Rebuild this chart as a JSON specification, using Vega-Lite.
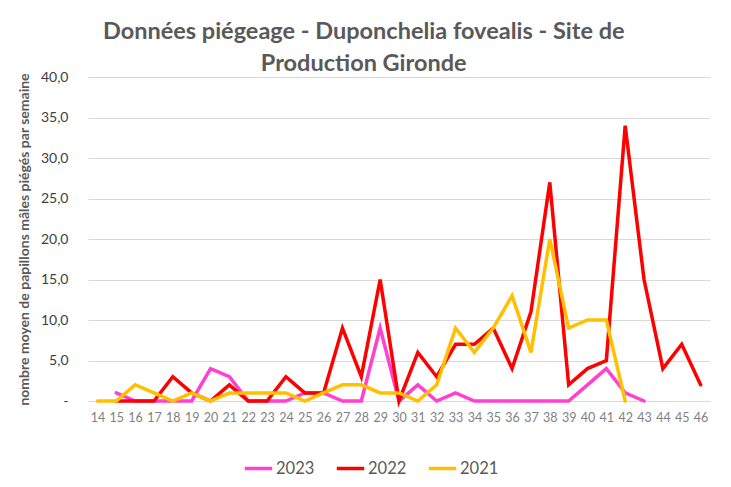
{
  "$schema": "https://vega.github.io/schema/vega-lite/v6.json",
  "width": 622,
  "height": 324,
  "autosize": {"type": "none"},
  "padding": {"left": 88, "top": 77, "right": 21, "bottom": 86},
  "background": "white",
  "config": {"view": {"stroke": null}, "font": "Lato"},
  "title": {
    "text": ["Données piégeage - Duponchelia fovealis - Site de", "Production Gironde"],
    "frame": "bounds",
    "anchor": "middle",
    "font": "Lato",
    "fontSize": 23.5,
    "fontWeight": "bold",
    "color": "#595959",
    "lineHeight": 32,
    "offset": -5
  },
  "datasets": {
    "d": [
      {"week": 15, "year": "2023", "value": 1}, {"week": 16, "year": "2023", "value": 0}, {"week": 17, "year": "2023", "value": 0}, {"week": 18, "year": "2023", "value": 0}, {"week": 19, "year": "2023", "value": 0}, {"week": 20, "year": "2023", "value": 4}, {"week": 21, "year": "2023", "value": 3}, {"week": 22, "year": "2023", "value": 0}, {"week": 23, "year": "2023", "value": 0}, {"week": 24, "year": "2023", "value": 0}, {"week": 25, "year": "2023", "value": 1}, {"week": 26, "year": "2023", "value": 1}, {"week": 27, "year": "2023", "value": 0}, {"week": 28, "year": "2023", "value": 0}, {"week": 29, "year": "2023", "value": 9}, {"week": 30, "year": "2023", "value": 0}, {"week": 31, "year": "2023", "value": 2}, {"week": 32, "year": "2023", "value": 0}, {"week": 33, "year": "2023", "value": 1}, {"week": 34, "year": "2023", "value": 0}, {"week": 35, "year": "2023", "value": 0}, {"week": 36, "year": "2023", "value": 0}, {"week": 37, "year": "2023", "value": 0}, {"week": 38, "year": "2023", "value": 0}, {"week": 39, "year": "2023", "value": 0}, {"week": 40, "year": "2023", "value": 2}, {"week": 41, "year": "2023", "value": 4}, {"week": 42, "year": "2023", "value": 1}, {"week": 43, "year": "2023", "value": 0},
      {"week": 15, "year": "2022", "value": 0}, {"week": 16, "year": "2022", "value": 0}, {"week": 17, "year": "2022", "value": 0}, {"week": 18, "year": "2022", "value": 3}, {"week": 19, "year": "2022", "value": 1}, {"week": 20, "year": "2022", "value": 0}, {"week": 21, "year": "2022", "value": 2}, {"week": 22, "year": "2022", "value": 0}, {"week": 23, "year": "2022", "value": 0}, {"week": 24, "year": "2022", "value": 3}, {"week": 25, "year": "2022", "value": 1}, {"week": 26, "year": "2022", "value": 1}, {"week": 27, "year": "2022", "value": 9}, {"week": 28, "year": "2022", "value": 3}, {"week": 29, "year": "2022", "value": 15}, {"week": 30, "year": "2022", "value": 0}, {"week": 31, "year": "2022", "value": 6}, {"week": 32, "year": "2022", "value": 3}, {"week": 33, "year": "2022", "value": 7}, {"week": 34, "year": "2022", "value": 7}, {"week": 35, "year": "2022", "value": 9}, {"week": 36, "year": "2022", "value": 4}, {"week": 37, "year": "2022", "value": 11}, {"week": 38, "year": "2022", "value": 27}, {"week": 39, "year": "2022", "value": 2}, {"week": 40, "year": "2022", "value": 4}, {"week": 41, "year": "2022", "value": 5}, {"week": 42, "year": "2022", "value": 34}, {"week": 43, "year": "2022", "value": 15}, {"week": 44, "year": "2022", "value": 4}, {"week": 45, "year": "2022", "value": 7}, {"week": 46, "year": "2022", "value": 2},
      {"week": 14, "year": "2021", "value": 0}, {"week": 15, "year": "2021", "value": 0}, {"week": 16, "year": "2021", "value": 2}, {"week": 17, "year": "2021", "value": 1}, {"week": 18, "year": "2021", "value": 0}, {"week": 19, "year": "2021", "value": 1}, {"week": 20, "year": "2021", "value": 0}, {"week": 21, "year": "2021", "value": 1}, {"week": 22, "year": "2021", "value": 1}, {"week": 23, "year": "2021", "value": 1}, {"week": 24, "year": "2021", "value": 1}, {"week": 25, "year": "2021", "value": 0}, {"week": 26, "year": "2021", "value": 1}, {"week": 27, "year": "2021", "value": 2}, {"week": 28, "year": "2021", "value": 2}, {"week": 29, "year": "2021", "value": 1}, {"week": 30, "year": "2021", "value": 1}, {"week": 31, "year": "2021", "value": 0}, {"week": 32, "year": "2021", "value": 2}, {"week": 33, "year": "2021", "value": 9}, {"week": 34, "year": "2021", "value": 6}, {"week": 35, "year": "2021", "value": 9}, {"week": 36, "year": "2021", "value": 13}, {"week": 37, "year": "2021", "value": 6}, {"week": 38, "year": "2021", "value": 20}, {"week": 39, "year": "2021", "value": 9}, {"week": 40, "year": "2021", "value": 10}, {"week": 41, "year": "2021", "value": 10}, {"week": 42, "year": "2021", "value": 0}
    ]
  },
  "data": {"name": "d"},
  "mark": {"type": "line", "strokeWidth": 3.5, "strokeJoin": "miter", "strokeCap": "round"},
  "encoding": {
    "x": {
      "field": "week",
      "type": "ordinal",
      "scale": {"domain": [14,15,16,17,18,19,20,21,22,23,24,25,26,27,28,29,30,31,32,33,34,35,36,37,38,39,40,41,42,43,44,45,46], "paddingInner": 0, "paddingOuter": 0.5},
      "axis": {
        "title": null,
        "labelAngle": 0,
        "labelColor": "#7f7f7f",
        "labelFontSize": 12.5,
        "labelPadding": 10,
        "ticks": false,
        "domainColor": "#d9d9d9",
        "domainWidth": 1
      }
    },
    "y": {
      "field": "value",
      "type": "quantitative",
      "scale": {"domain": [0, 40], "nice": false},
      "axis": {
        "title": "nombre moyen de papillons mâles piégés par semaine",
        "titleColor": "#595959",
        "titleFontSize": 14,
        "titleFontWeight": "bold",
        "titlePadding": 9,
        "values": [0, 5, 10, 15, 20, 25, 30, 35, 40],
        "labelExpr": "datum.value == 0 ? '-' : replace(format(datum.value, '.1f'), '.', ',')",
        "labelColor": "#404040",
        "labelFontSize": 14,
        "labelPadding": 20,
        "ticks": false,
        "domain": false,
        "gridColor": "#d9d9d9",
        "gridWidth": 1.2
      }
    },
    "color": {
      "field": "year",
      "type": "nominal",
      "scale": {"domain": ["2023", "2022", "2021"], "range": ["#ff40d0", "#ff0000", "#ffc000"]},
      "legend": {
        "title": null,
        "orient": "none",
        "direction": "horizontal",
        "legendX": 155,
        "legendY": 376,
        "symbolType": "stroke",
        "symbolStrokeWidth": 3.5,
        "symbolSize": 750,
        "labelFontSize": 16.5,
        "labelColor": "#595959",
        "columnPadding": 14,
        "labelOffset": 2
      }
    }
  }
}
